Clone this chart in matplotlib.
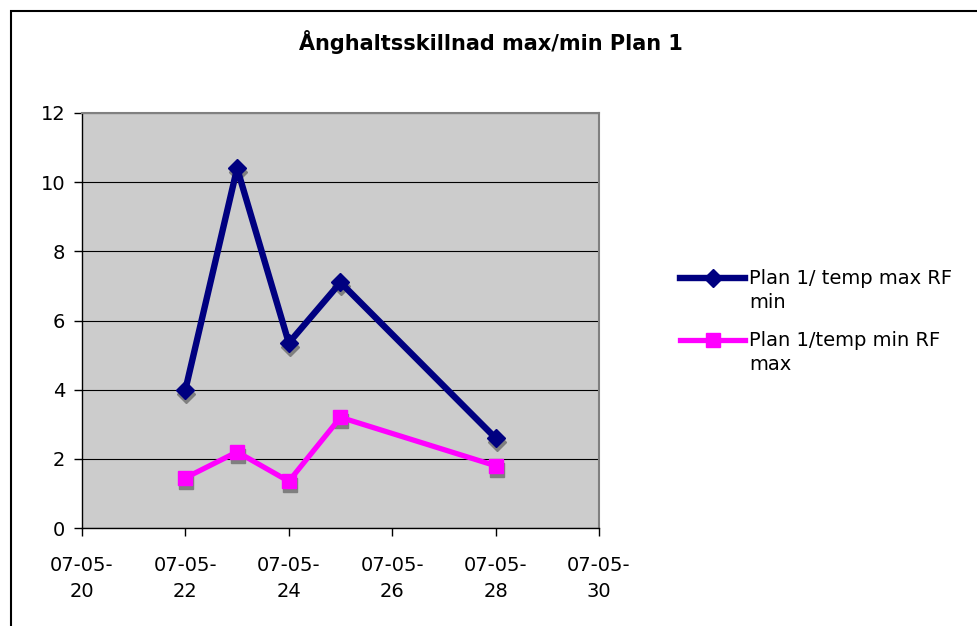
import pandas as pd
import matplotlib
matplotlib.use("Agg")
import matplotlib.pyplot as plt
import matplotlib.dates as mdates
import matplotlib.transforms as mtransforms
from matplotlib.lines import Line2D
from matplotlib.patches import Rectangle

# --------------------------------------------------
# Data
# --------------------------------------------------
dates = pd.to_datetime([
    "2007-05-22", "2007-05-23", "2007-05-24", "2007-05-25", "2007-05-28"
])
max_rf_min = [4.0, 10.4, 5.35, 7.1, 2.6]
min_rf_max = [1.45, 2.2, 1.35, 3.2, 1.8]

series_labels = ["Plan 1/ temp max RF\nmin", "Plan 1/temp min RF\nmax"]
title = "Ånghaltsskillnad max/min Plan 1"

NAVY = "#000080"
PINK = "#FF00FF"
SHADOW = "#7F7F7F"

# --------------------------------------------------
# Figure
# --------------------------------------------------
plt.rcParams["font.family"] = ["DejaVu Sans"]
FS = 14

W, H = 978, 626
fig = plt.figure(figsize=(W / 100, H / 100), dpi=100)
fig.patch.set_facecolor("white")


def fx(px):
    return px / W


def fy(py):
    return 1 - py / H


# chart frame
fig.patches.append(Rectangle(
    (fx(11), -0.1), 1.2, fy(11) + 0.1,
    transform=fig.transFigure, fill=False, edgecolor="black", linewidth=1.5
))

ax = fig.add_axes([fx(82), fy(528), 517 / W, 415 / H])
ax.set_facecolor("#CCCCCC")

ax.set_ylim(0, 12)
ax.set_yticks(range(0, 13, 2))
ax.set_xlim(pd.Timestamp("2007-05-20"), pd.Timestamp("2007-05-30"))
ax.xaxis.set_major_locator(mdates.DayLocator(bymonthday=[20, 22, 24, 26, 28, 30]))
ax.xaxis.set_major_formatter(mdates.DateFormatter("%y-%m-\n%d"))

ax.grid(axis="y", color="black", linewidth=0.8)
ax.set_axisbelow(True)

for side in ["top", "right"]:
    ax.spines[side].set_color("#808080")
    ax.spines[side].set_linewidth(1.5)
for side in ["left", "bottom"]:
    ax.spines[side].set_color("black")
    ax.spines[side].set_linewidth(1.0)

ax.tick_params(axis="both", direction="out", length=6, width=1,
               labelsize=FS, colors="black")
ax.tick_params(axis="x", pad=14)
ax.tick_params(axis="y", pad=6)
for lbl in ax.get_xticklabels():
    lbl.set_linespacing(1.5)

# marker shadows
shadow = mtransforms.offset_copy(ax.transData, fig=fig, x=1, y=-4, units="dots")
ax.plot(dates, max_rf_min, linestyle="none", marker="D", markersize=9,
        color=SHADOW, transform=shadow, zorder=2)
ax.plot(dates, min_rf_max, linestyle="none", marker="s", markersize=10,
        color=SHADOW, transform=shadow, zorder=2)

ax.plot(dates, max_rf_min, color=NAVY, linewidth=4.6, marker="D",
        markersize=9, zorder=3)
ax.plot(dates, min_rf_max, color=PINK, linewidth=3.8, marker="s",
        markersize=10, zorder=3)

fig.text(fx(491), fy(42), title, ha="center", va="center",
         fontsize=15, fontweight="bold")

# legend
legend_items = [
    (NAVY, "D", 4.6, 9, 278, series_labels[0]),
    (PINK, "s", 3.8, 10, 340, series_labels[1]),
]
for color, marker, lw, ms, y, label in legend_items:
    fig.add_artist(Line2D([fx(680), fx(745)], [fy(y), fy(y)], color=color,
                          linewidth=lw, transform=fig.transFigure))
    fig.add_artist(Line2D([fx(713)], [fy(y)], color=color, marker=marker,
                          markersize=ms, transform=fig.transFigure))
    fig.text(fx(749), fy(y - 9), label, ha="left", va="top",
             fontsize=FS, linespacing=1.3)

fig.savefig("out.png", dpi=100)
